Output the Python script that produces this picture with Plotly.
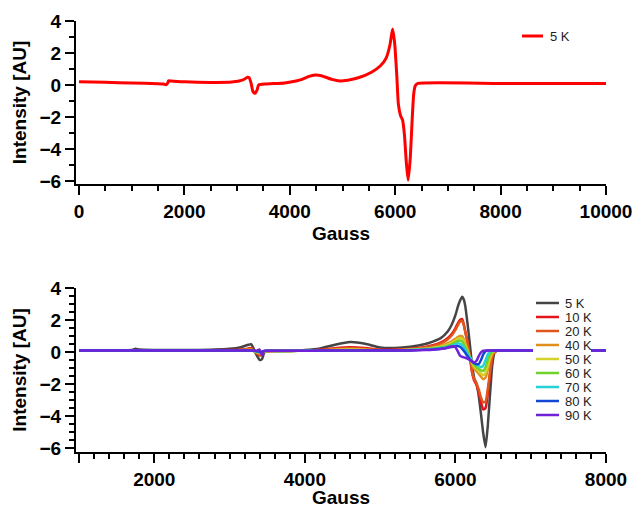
import plotly.graph_objects as go
from plotly.subplots import make_subplots

# ---------------- data ----------------
top_gauss = [0, 500, 1000, 1500, 1600, 1650, 1680, 1700, 1750, 2000, 2500, 2900, 3100, 3200,
             3230, 3270, 3300, 3340, 3380, 3410, 3550, 3900, 4200, 4350, 4480, 4600, 4800,
             4950, 5100, 5300, 5550, 5720, 5830, 5900, 5950, 5990, 6030, 6060, 6100, 6140,
             6175, 6210, 6245, 6285, 6320, 6350, 6380, 6430, 8000, 10000]
top_5k = [0.2, 0.17, 0.12, 0.08, 0.06, 0.02, 0.1, 0.26, 0.25, 0.2, 0.16, 0.18, 0.3, 0.48,
          0.45, 0.05, -0.4, -0.52, -0.3, 0.0, 0.06, 0.13, 0.32, 0.52, 0.62, 0.58, 0.35,
          0.25, 0.3, 0.45, 0.8, 1.2, 1.7, 2.5, 3.5, 2.6, 0.6, -1.2, -1.9, -2.2,
          -3.1, -4.8, -5.95, -4.6, -2.3, -0.6, -0.05, 0.1, 0.1, 0.1]
top_name = "5 K"
top_color = "#ff0000"

bottom_gauss = [1000, 1500, 1700, 1750, 1800, 2000, 2500, 3000, 3150, 3250, 3290, 3320, 3360,
                3400, 3430, 3460, 3500, 3600, 3800, 4000, 4200, 4400, 4600, 4800, 5000, 5200,
                5400, 5600, 5700, 5800, 5900, 5950, 6000, 6030, 6060, 6090, 6110, 6130, 6160,
                6190, 6220, 6250, 6280, 6310, 6340, 6370, 6400, 6430, 6460, 6490, 6520, 6550,
                6600, 7000, 7500, 8000]

k5 = [0.1, 0.1, 0.12, 0.2, 0.15, 0.13, 0.12, 0.2, 0.3, 0.45, 0.48, 0.2, -0.2,
      -0.5, -0.45, -0.05, 0.05, 0.06, 0.08, 0.12, 0.22, 0.45, 0.62, 0.52, 0.28, 0.25,
      0.33, 0.5, 0.65, 0.85, 1.3, 1.7, 2.3, 2.8, 3.2, 3.45, 3.3, 2.9, 1.8,
      0.55, -0.75, -1.65, -2.0, -2.75, -3.9, -5.1, -5.95, -4.6, -2.6, -0.8, -0.02, 0.08,
      0.1, 0.1, 0.1, 0.1]
k10 = [0.1, 0.1, 0.1, 0.12, 0.11, 0.1, 0.1, 0.12, 0.15, 0.22, 0.25, 0.1, -0.1,
       -0.22, -0.15, 0.02, 0.06, 0.07, 0.07, 0.09, 0.14, 0.24, 0.3, 0.25, 0.14, 0.15,
       0.2, 0.32, 0.42, 0.58, 0.88, 1.12, 1.5, 1.78, 2.0, 2.05, 1.75, 1.3, 0.65,
       -0.25, -1.25, -1.8, -2.05, -2.55, -3.15, -3.6, -3.5, -2.6, -1.4, -0.35, 0.0, 0.08,
       0.1, 0.1, 0.1, 0.1]
k20 = [0.1, 0.1, 0.1, 0.11, 0.1, 0.1, 0.1, 0.11, 0.13, 0.18, 0.2, 0.08, -0.08,
       -0.18, -0.1, 0.03, 0.06, 0.07, 0.07, 0.09, 0.12, 0.2, 0.24, 0.2, 0.12, 0.13,
       0.18, 0.28, 0.37, 0.52, 0.8, 1.03, 1.38, 1.65, 1.88, 1.95, 1.7, 1.25, 0.6,
       -0.25, -1.2, -1.7, -1.95, -2.35, -2.85, -3.15, -3.1, -2.3, -1.2, -0.3, 0.0, 0.08,
       0.1, 0.1, 0.1, 0.1]
k40 = [0.1, 0.1, 0.1, 0.1, 0.1, 0.1, 0.1, 0.1, 0.12, 0.13, 0.14, 0.06, -0.04,
       -0.08, -0.05, 0.04, 0.06, 0.07, 0.07, 0.08, 0.1, 0.15, 0.18, 0.15, 0.1, 0.11,
       0.15, 0.22, 0.28, 0.38, 0.55, 0.67, 0.82, 0.93, 1.0, 0.98, 0.8, 0.55, 0.15,
       -0.35, -0.75, -1.05, -1.2, -1.35, -1.55, -1.7, -1.6, -1.1, -0.5, -0.1, 0.05, 0.08,
       0.1, 0.1, 0.1, 0.1]
k50 = [0.1, 0.1, 0.1, 0.1, 0.1, 0.1, 0.1, 0.1, 0.11, 0.12, 0.12, 0.07, 0.0,
       -0.05, -0.03, 0.05, 0.07, 0.07, 0.07, 0.08, 0.1, 0.13, 0.15, 0.13, 0.1, 0.1,
       0.14, 0.2, 0.25, 0.33, 0.47, 0.58, 0.72, 0.82, 0.88, 0.84, 0.68, 0.45, 0.1,
       -0.3, -0.65, -0.9, -1.05, -1.2, -1.35, -1.45, -1.3, -0.85, -0.35, -0.05, 0.06, 0.09,
       0.1, 0.1, 0.1, 0.1]
k60 = [0.1, 0.1, 0.1, 0.1, 0.1, 0.1, 0.1, 0.1, 0.1, 0.11, 0.11, 0.08, 0.02,
       -0.03, -0.02, 0.05, 0.07, 0.07, 0.07, 0.08, 0.09, 0.11, 0.12, 0.11, 0.1, 0.1,
       0.13, 0.18, 0.22, 0.28, 0.4, 0.48, 0.6, 0.68, 0.72, 0.66, 0.5, 0.3, 0.0,
       -0.3, -0.58, -0.8, -0.95, -1.05, -1.15, -1.18, -0.95, -0.5, -0.15, 0.03, 0.08, 0.1,
       0.1, 0.1, 0.1, 0.1]
k70 = [0.1, 0.1, 0.1, 0.1, 0.1, 0.1, 0.1, 0.1, 0.1, 0.1, 0.1, 0.08, 0.04,
       0.0, 0.0, 0.06, 0.07, 0.07, 0.07, 0.08, 0.09, 0.1, 0.1, 0.1, 0.1, 0.1,
       0.12, 0.16, 0.19, 0.24, 0.33, 0.4, 0.48, 0.54, 0.52, 0.42, 0.3, 0.15, -0.1,
       -0.35, -0.55, -0.7, -0.8, -0.88, -0.95, -0.85, -0.5, -0.15, 0.03, 0.08, 0.1, 0.1,
       0.1, 0.1, 0.1, 0.1]
k80 = [0.1, 0.1, 0.1, 0.1, 0.1, 0.1, 0.1, 0.1, 0.1, 0.1, 0.1, 0.09, 0.05,
       0.02, 0.02, 0.07, 0.08, 0.08, 0.08, 0.08, 0.09, 0.1, 0.1, 0.1, 0.1, 0.1,
       0.1, 0.14, 0.16, 0.2, 0.27, 0.31, 0.35, 0.37, 0.33, 0.2, 0.08, -0.05, -0.25,
       -0.45, -0.6, -0.7, -0.76, -0.75, -0.5, -0.15, 0.05, 0.1, 0.1, 0.1, 0.1, 0.1,
       0.1, 0.1, 0.1, 0.1]
k90 = [0.1, 0.1, 0.1, 0.1, 0.1, 0.1, 0.1, 0.1, 0.1, 0.1, 0.1, 0.1, 0.08,
       0.15, -0.2, 0.08, 0.08, 0.08, 0.08, 0.08, 0.09, 0.1, 0.1, 0.1, 0.1, 0.1,
       0.1, 0.12, 0.14, 0.18, 0.28, 0.36, 0.3, 0.05, -0.22, -0.3, -0.33, -0.36, -0.42,
       -0.5, -0.58, -0.66, -0.55, -0.25, -0.02, 0.08, 0.1, 0.1, 0.1, 0.1, 0.1, 0.1,
       0.1, 0.1, 0.1, 0.1]

bottom_names = ["5 K", "10 K", "20 K", "40 K", "50 K", "60 K", "70 K", "80 K", "90 K"]
bottom_series = [k5, k10, k20, k40, k50, k60, k70, k80, k90]
bottom_colors = ["#454545", "#e3141b", "#e0561c", "#df8f1a", "#d4d22a",
                 "#6fd12a", "#25d3d6", "#1446d6", "#7121d8"]

x_title = "Gauss"
y_title = "Intensity [AU]"
bottom_tickvals = [1000, 2000, 4000, 6000, 8000]
bottom_ticktext = ["", "2000", "4000", "6000", "8000"]

# ---------------- figure ----------------
W, H = 635, 508
ML, MR, MT, MB = 76, 29, 21, 56
PW, PH = W - ML - MR, H - MT - MB

def px2paper_x(px):
    return (px - ML) / PW

def px2paper_y(py):
    return (H - MB - py) / PH

fig = make_subplots(rows=2, cols=1, vertical_spacing=0.0)

fig.add_trace(go.Scatter(x=top_gauss, y=top_5k, mode="lines", name=top_name,
                         line=dict(color=top_color, width=3, shape="spline", smoothing=0.5),
                         showlegend=False),
              row=1, col=1)
for name, ys, col in zip(bottom_names, bottom_series, bottom_colors):
    fig.add_trace(go.Scatter(x=bottom_gauss, y=ys, mode="lines", name=name,
                             line=dict(color=col, width=2.5, shape="spline", smoothing=0.5),
                             showlegend=False),
                  row=2, col=1)

FONT = "Liberation Sans, Arial, Helvetica, sans-serif"
tickfont = dict(family=FONT, size=19, color="black", weight="bold")
titlefont = dict(family=FONT, size=19, color="black", weight="bold")

axis_common = dict(showline=True, linecolor="black", linewidth=2, ticks="outside",
                   tickcolor="black", tickwidth=2, ticklen=9, showgrid=False,
                   zeroline=False, tickfont=tickfont, mirror=False, automargin=False,
                   tickformat="d")

fig.update_xaxes(**axis_common)
fig.update_yaxes(**axis_common)

top_dom = [(H - MB - 184) / PH, 1.0]
bot_dom = [0.0, (H - MB - 288) / PH]

fig.update_layout(
    xaxis=dict(range=[-57, 10000], dtick=2000, tick0=0,
               minor=dict(dtick=500, ticks="outside", ticklen=5, tickwidth=2, tickcolor="black"),
               title=dict(text=x_title, font=titlefont, standoff=6), anchor="y"),
    yaxis=dict(range=[-6.19, 4], dtick=2, tick0=0, domain=top_dom,
               minor=dict(dtick=1, ticks="outside", ticklen=5, tickwidth=2, tickcolor="black"),
               title=dict(text=y_title, font=titlefont, standoff=8), anchor="x"),
    xaxis2=dict(range=[960, 8000], tickmode="array", tickvals=bottom_tickvals,
                ticktext=bottom_ticktext,
                minor=dict(dtick=200, tick0=0, ticks="outside", ticklen=5, tickwidth=2, tickcolor="black"),
                title=dict(text=x_title, font=titlefont, standoff=5), anchor="y2"),
    yaxis2=dict(range=[-6.25, 4], dtick=2, tick0=0, domain=bot_dom,
                minor=dict(dtick=0.5, ticks="outside", ticklen=5, tickwidth=2, tickcolor="black"),
                title=dict(text=y_title, font=titlefont, standoff=8), anchor="x2"),
)

# ---------------- legends (drawn compactly) ----------------
shapes = []
annotations = []
legfont = dict(family=FONT, size=13, color="#222222")

# top legend
shapes.append(dict(type="line", xref="paper", yref="paper",
                   x0=px2paper_x(522), x1=px2paper_x(543),
                   y0=px2paper_y(36), y1=px2paper_y(36),
                   line=dict(color=top_color, width=3)))
annotations.append(dict(text=top_name, xref="paper", yref="paper",
                        x=px2paper_x(549), y=px2paper_y(36), xanchor="left",
                        yanchor="middle", showarrow=False, font=legfont,
                        height=13, borderpad=0))

# bottom legend
row0, step = 303, 14
shapes.append(dict(type="rect", xref="paper", yref="paper",
                   x0=px2paper_x(533), x1=px2paper_x(591),
                   y0=px2paper_y(row0 - 7), y1=px2paper_y(row0 + step * (len(bottom_names) - 1) + 7),
                   fillcolor="white", line=dict(width=0), layer="above"))
for i, (name, col) in enumerate(zip(bottom_names, bottom_colors)):
    yy = px2paper_y(row0 + step * i)
    shapes.append(dict(type="line", xref="paper", yref="paper",
                       x0=px2paper_x(536), x1=px2paper_x(559), y0=yy, y1=yy,
                       line=dict(color=col, width=2.5)))
    annotations.append(dict(text=name, xref="paper", yref="paper",
                            x=px2paper_x(564), y=yy, xanchor="left", yanchor="middle",
                            showarrow=False, font=legfont, height=13, borderpad=0))

fig.update_layout(shapes=shapes, annotations=annotations,
                  width=W, height=H, margin=dict(l=ML, r=MR, t=MT, b=MB),
                  plot_bgcolor="white", paper_bgcolor="white", showlegend=False)

fig.write_html("out.html", config={"displayModeBar": False},
               post_script="document.body.style.margin='0';document.body.style.padding='0';")
